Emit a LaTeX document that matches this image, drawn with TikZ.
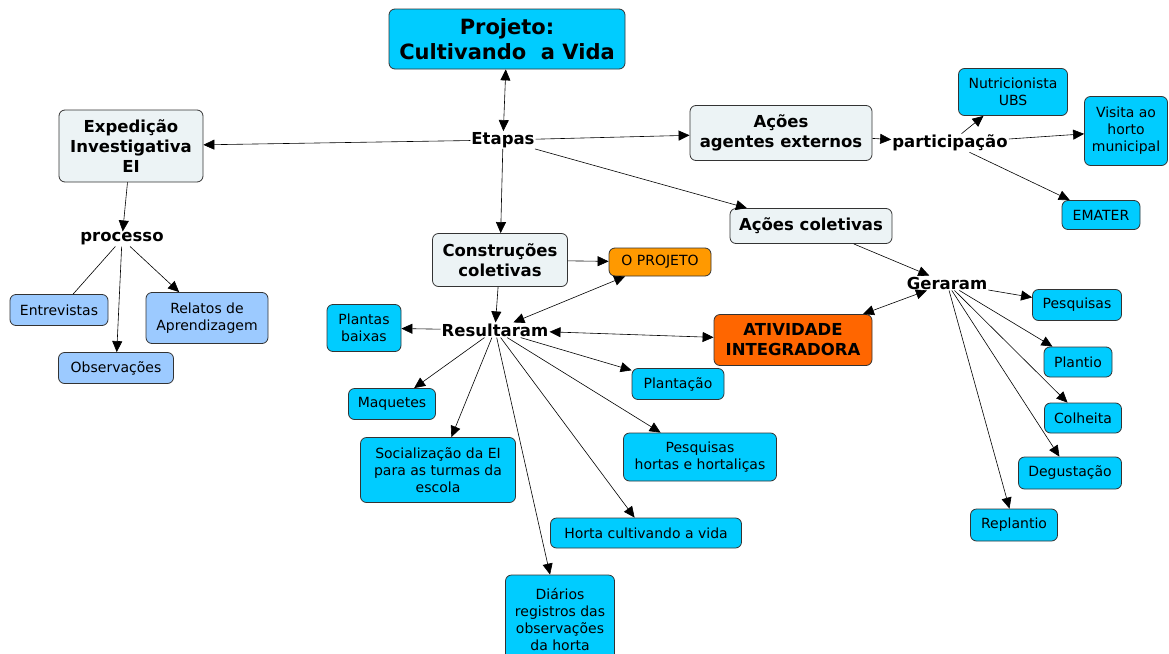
\documentclass[tikz,border=0pt]{standalone}
\usepackage{fontspec}
\setmainfont{DejaVu Sans}
\usetikzlibrary{arrows.meta, positioning}
\definecolor{cyanbox}{HTML}{00CCFF}
\definecolor{greybox}{HTML}{ECF3F5}
\definecolor{bluebox}{HTML}{9CCAFF}
\definecolor{orangebox}{HTML}{FF9900}
\definecolor{redbox}{HTML}{FF6600}

\begin{document}
\begin{tikzpicture}[
    x=1pt, y=-1pt,
    every node/.style={rectangle, rounded corners=6pt, align=center, inner sep=2pt, font=\fontsize{14}{17}\selectfont},
    title/.style={draw=black!80, line width=0.8pt, fill=cyanbox, font=\bfseries\fontsize{21}{25}\selectfont},
    concept/.style={draw=black!80, line width=0.8pt, fill=greybox, font=\bfseries\fontsize{16.5}{20}\selectfont},
    linkword/.style={fill=white, inner sep=1pt, font=\bfseries\fontsize{16.5}{18}\selectfont},
    leaf/.style={draw=black!80, line width=0.8pt, fill=cyanbox},
    soft/.style={draw=black!80, line width=0.8pt, fill=bluebox},
    project/.style={draw=black!80, line width=0.8pt, fill=orangebox},
    highlight/.style={draw=black!80, line width=0.8pt, fill=redbox, font=\bfseries\fontsize{16.5}{20}\selectfont},
    arrow/.style={-{Triangle[length=11pt, width=10pt]}, semithick},
    twoway/.style={{Triangle[length=11pt, width=10pt]}-{Triangle[length=11pt, width=10pt]}, semithick}
]
\useasboundingbox (0,0) rectangle (1169,653);

% top
\node[title, minimum width=236, minimum height=60] (1) at (507,39) {Projeto:\\Cultivando\ \ a Vida};
\node[linkword] (2) at (503,140) {Etapas};

% left branch
\node[concept, minimum width=144, minimum height=72] (3) at (131,146) {Expedição\\Investigativa\\EI};
\node[linkword] (4) at (122,239) {processo};
\node[soft, minimum width=98, minimum height=31] (5) at (59,310) {Entrevistas};
\node[soft, minimum width=122, minimum height=51] (6) at (207,318) {Relatos de\\Aprendizagem};
\node[soft, minimum width=115, minimum height=31] (7) at (116,368) {Observações};

% external agents
\node[concept, minimum width=182, minimum height=55] (8) at (781,133) {Ações\\agentes externos};
\node[linkword] (9) at (950,143) {participação};
\node[leaf, minimum width=109, minimum height=47] (10) at (1013,92) {Nutricionista\\UBS};
\node[leaf, minimum width=83, minimum height=69] (11) at (1126,131) {Visita ao\\horto\\municipal};
\node[leaf, minimum width=78, minimum height=29] (12) at (1101,215) {EMATER};

% collective actions
\node[concept, minimum width=162, minimum height=35] (13) at (811,226) {Ações coletivas};
\node[linkword] (14) at (947,283) {Geraram};
\node[leaf, minimum width=89, minimum height=31] (15) at (1077,305) {Pesquisas};
\node[leaf, minimum width=68, minimum height=30] (16) at (1078,362) {Plantio};
\node[leaf, minimum width=77, minimum height=30] (17) at (1083,418) {Colheita};
\node[leaf, minimum width=103, minimum height=32] (18) at (1070,473) {Degustação};
\node[leaf, minimum width=87, minimum height=32] (19) at (1014,525) {Replantio};
\node[highlight, minimum width=158, minimum height=51] (20) at (793,340) {ATIVIDADE\\INTEGRADORA};

% collective constructions
\node[concept, minimum width=135, minimum height=53] (21) at (500,260) {Construções\\coletivas};
\node[project, minimum width=102, minimum height=28] (22) at (660,262) {O PROJETO};
\node[linkword] (23) at (495,330) {Resultaram};
\node[leaf, minimum width=74, minimum height=47] (24) at (364,328) {Plantas\\baixas};
\node[leaf, minimum width=87, minimum height=31] (25) at (392,404) {Maquetes};
\node[leaf, minimum width=155, minimum height=65] (26) at (438,470) {Socialização da EI\\para as turmas da\\escola};
\node[leaf, minimum width=92, minimum height=31] (27) at (678,384) {Plantação};
\node[leaf, minimum width=153, minimum height=48] (28) at (700,457) {Pesquisas\\hortas e hortaliças};
\node[leaf, minimum width=191, minimum height=30] (29) at (646,533) {Horta cultivando a vida};
\node[leaf, minimum width=109, minimum height=88] (30) at (560,619) {Diários\\registros das\\observações\\da horta};

\draw[twoway] (1) -- (2);
\draw[arrow] (2) -- (3);
\draw[arrow] (2) -- (8);
\draw[arrow] (2) -- (21);
\draw[arrow] (2) -- (13);
\draw[arrow] (3) -- (4);
\draw[semithick] (4) -- (5);
\draw[arrow] (4) -- (7);
\draw[arrow] (4) -- (6);
\draw[arrow] (8) -- (9);
\draw[arrow] (9) -- (10);
\draw[arrow] (9) -- (11);
\draw[arrow] (9) -- (12);
\draw[arrow] (13) -- (14);
\draw[twoway] (14) -- (20);
\draw[arrow] (14) -- (15);
\draw[arrow] (14) -- (16);
\draw[arrow] (14) -- (17);
\draw[arrow] (14) -- (18);
\draw[arrow] (14) -- (19);
\draw[arrow] (21) -- (22);
\draw[arrow] (21) -- (23);
\draw[twoway] (23) -- (22);
\draw[twoway] (23) -- (20);
\draw[arrow] (23) -- (24);
\draw[arrow] (23) -- (25);
\draw[arrow] (23) -- (26);
\draw[arrow] (23) -- (30);
\draw[arrow] (23) -- (29);
\draw[arrow] (23) -- (28);
\draw[arrow] (23) -- (27);
\end{tikzpicture}
\end{document}
